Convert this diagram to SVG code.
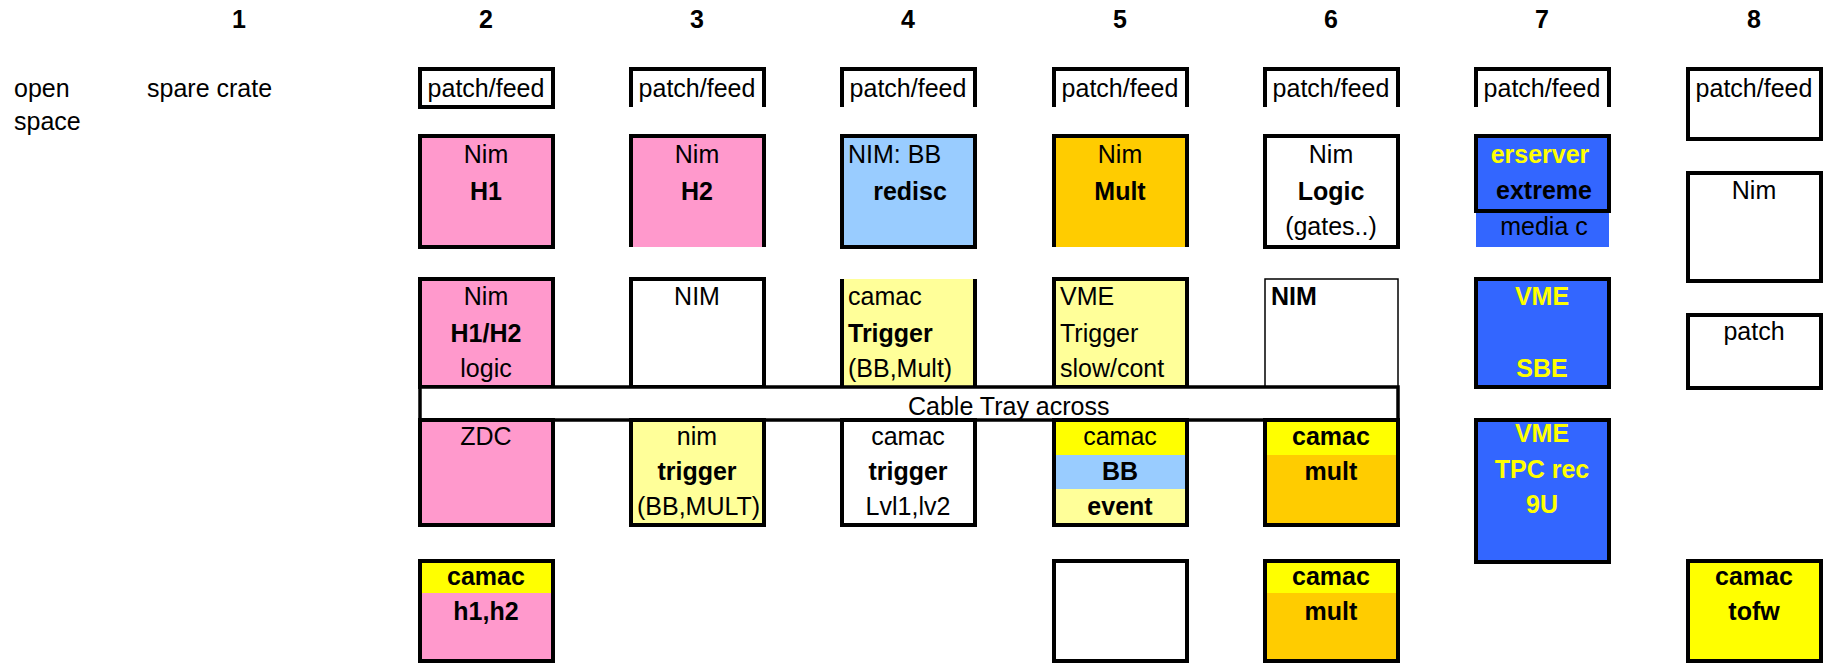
<svg xmlns="http://www.w3.org/2000/svg" width="1829" height="663" viewBox="0 0 1829 663">
<style>
text{font-family:"Liberation Sans",Arial,Helvetica,sans-serif;font-size:25px;fill:#000}
.b{font-weight:bold}
.c{text-anchor:middle}
.y{fill:#FFFF00}
.bx{stroke:#000;stroke-width:4}
.nb{stroke:none}
.ln{fill:none;stroke:#000;stroke-width:4}
.pk{fill:#FF99CC}.lb{fill:#99CCFF}.or{fill:#FFCC00}.ly{fill:#FFFF99}.ye{fill:#FFFF00}.bl{fill:#3366FF}.wh{fill:#FFFFFF}
</style>
<rect width="1829" height="663" fill="#fff"/>
<g id="headers">
<text class="b c" x="239" y="28">1</text>
<text class="b c" x="486" y="28">2</text>
<text class="b c" x="697" y="28">3</text>
<text class="b c" x="908" y="28">4</text>
<text class="b c" x="1120" y="28">5</text>
<text class="b c" x="1331" y="28">6</text>
<text class="b c" x="1542" y="28">7</text>
<text class="b c" x="1754" y="28">8</text>
</g>
<g id="labels">
<text x="14" y="97">open</text>
<text x="14" y="130">space</text>
<text x="147" y="97">spare crate</text>
</g>
<g id="connectors"/>
<!-- patch/feed row -->
<g id="pf2"><rect class="wh bx" x="420" y="69" width="133" height="38"/><text class="c" x="486" y="97">patch/feed</text></g>
<g id="pf3"><rect class="wh nb" x="631" y="69" width="133" height="38"/><path class="ln" d="M631,107V69H764V107"/><text class="c" x="697" y="97">patch/feed</text></g>
<g id="pf4"><rect class="wh nb" x="842" y="69" width="133" height="38"/><path class="ln" d="M842,107V69H975V107"/><text class="c" x="908" y="97">patch/feed</text></g>
<g id="pf5"><rect class="wh nb" x="1054" y="69" width="133" height="38"/><path class="ln" d="M1054,107V69H1187V107"/><text class="c" x="1120" y="97">patch/feed</text></g>
<g id="pf6"><rect class="wh nb" x="1265" y="69" width="133" height="38"/><path class="ln" d="M1265,107V69H1398V107"/><text class="c" x="1331" y="97">patch/feed</text></g>
<g id="pf7"><rect class="wh nb" x="1476" y="69" width="133" height="38"/><path class="ln" d="M1476,107V69H1609V107"/><text class="c" x="1542" y="97">patch/feed</text></g>
<g id="pf8"><rect class="wh bx" x="1688" y="69" width="133" height="70"/><text class="c" x="1754" y="97">patch/feed</text></g>
<!-- row 1 -->
<g id="r1c2"><rect class="pk bx" x="420" y="136" width="133" height="111"/><text class="c" x="486" y="163">Nim</text><text class="b c" x="486" y="200">H1</text></g>
<g id="r1c3"><rect class="pk nb" x="631" y="136" width="133" height="111"/><path class="ln" d="M631,247V136H764V247"/><text class="c" x="697" y="163">Nim</text><text class="b c" x="697" y="200">H2</text></g>
<g id="r1c4"><rect class="lb bx" x="842" y="136" width="133" height="111"/><text x="848" y="163">NIM: BB</text><text class="b c" x="910" y="200">redisc</text></g>
<g id="r1c5"><rect class="or nb" x="1054" y="136" width="133" height="111"/><path class="ln" d="M1054,247V136H1187V247"/><text class="c" x="1120" y="163">Nim</text><text class="b c" x="1120" y="200">Mult</text></g>
<g id="r1c6"><rect class="wh bx" x="1265" y="136" width="133" height="111"/><text class="c" x="1331" y="163">Nim</text><text class="b c" x="1331" y="200">Logic</text><text class="c" x="1331" y="235">(gates..)</text></g>
<g id="r1c7"><rect class="bl nb" x="1476" y="211" width="133" height="36"/><rect class="bl bx" x="1476" y="136" width="133" height="75"/><text class="b c y" x="1540" y="163">erserver</text><text class="b c" x="1544" y="199">extreme</text><text class="c" x="1544" y="235">media c</text></g>
<g id="r1c8"><rect class="wh bx" x="1688" y="173" width="133" height="108"/><text class="c" x="1754" y="199">Nim</text></g>
<!-- row 2 -->
<g id="r2c2"><rect class="pk bx" x="420" y="279" width="133" height="108"/><text class="c" x="486" y="305">Nim</text><text class="b c" x="486" y="342">H1/H2</text><text class="c" x="486" y="377">logic</text></g>
<g id="r2c3"><rect class="wh bx" x="631" y="279" width="133" height="108"/><text class="c" x="697" y="305">NIM</text></g>
<g id="r2c4"><rect class="ly nb" x="842" y="279" width="133" height="108"/><path class="ln" d="M842,279V387M975,279V387"/><text x="848" y="305">camac</text><text class="b" x="848" y="342">Trigger</text><text x="848" y="377">(BB,Mult)</text></g>
<g id="r2c5"><rect class="ly bx" x="1054" y="279" width="133" height="108"/><text x="1060" y="305">VME</text><text x="1060" y="342">Trigger</text><text x="1060" y="377">slow/cont</text></g>
<g id="r2c6"><rect class="wh" stroke="#000" stroke-width="1.5" x="1265" y="279" width="133" height="108"/><text class="b" x="1271" y="305">NIM</text></g>
<g id="r2c7"><rect class="bl bx" x="1476" y="279" width="133" height="108"/><text class="b c y" x="1542" y="305">VME</text><text class="b c y" x="1542" y="377">SBE</text></g>
<g id="r2c8"><rect class="wh bx" x="1688" y="315" width="133" height="73"/><text class="c" x="1754" y="340">patch</text></g>
<!-- cable tray -->
<g id="cabletray"><rect class="wh" stroke="#000" stroke-width="3.5" x="420" y="387" width="978" height="33"/><text x="908" y="415">Cable Tray across</text></g>
<!-- row 3 -->
<g id="r3c2"><rect class="pk bx" x="420" y="420" width="133" height="105"/><text class="c" x="486" y="445">ZDC</text></g>
<g id="r3c3"><rect class="ly bx" x="631" y="420" width="133" height="105"/><text class="c" x="697" y="445">nim</text><text class="b c" x="697" y="480">trigger</text><text x="637" y="515">(BB,MULT)</text></g>
<g id="r3c4"><rect class="wh bx" x="842" y="420" width="133" height="105"/><text class="c" x="908" y="445">camac</text><text class="b c" x="908" y="480">trigger</text><text class="c" x="908" y="515">Lvl1,lv2</text></g>
<g id="r3c5"><rect class="ye nb" x="1054" y="420" width="133" height="35"/><rect class="lb nb" x="1054" y="455" width="133" height="34"/><rect class="ly nb" x="1054" y="489" width="133" height="36"/><rect fill="none" class="bx" x="1054" y="420" width="133" height="105"/><text class="c" x="1120" y="445">camac</text><text class="b c" x="1120" y="480">BB</text><text class="b c" x="1120" y="515">event</text></g>
<g id="r3c6"><rect class="ye nb" x="1265" y="420" width="133" height="35"/><rect class="or nb" x="1265" y="455" width="133" height="70"/><rect fill="none" class="bx" x="1265" y="420" width="133" height="105"/><text class="b c" x="1331" y="445">camac</text><text class="b c" x="1331" y="480">mult</text></g>
<g id="r3c7"><rect class="bl bx" x="1476" y="420" width="133" height="142"/><text class="b c y" x="1542" y="442">VME</text><text class="b c y" x="1542" y="478">TPC rec</text><text class="b c y" x="1542" y="513">9U</text></g>
<!-- row 4 -->
<g id="r4c2"><rect class="ye nb" x="420" y="561" width="133" height="32"/><rect class="pk nb" x="420" y="593" width="133" height="68"/><rect fill="none" class="bx" x="420" y="561" width="133" height="100"/><text class="b c" x="486" y="585">camac</text><text class="b c" x="486" y="620">h1,h2</text></g>
<g id="r4c5"><rect class="wh bx" x="1054" y="561" width="133" height="100"/></g>
<g id="r4c6"><rect class="ye nb" x="1265" y="561" width="133" height="32"/><rect class="or nb" x="1265" y="593" width="133" height="68"/><rect fill="none" class="bx" x="1265" y="561" width="133" height="100"/><text class="b c" x="1331" y="585">camac</text><text class="b c" x="1331" y="620">mult</text></g>
<g id="r4c8"><rect class="ye bx" x="1688" y="561" width="133" height="100"/><text class="b c" x="1754" y="585">camac</text><text class="b c" x="1754" y="620">tofw</text></g>
</svg>
